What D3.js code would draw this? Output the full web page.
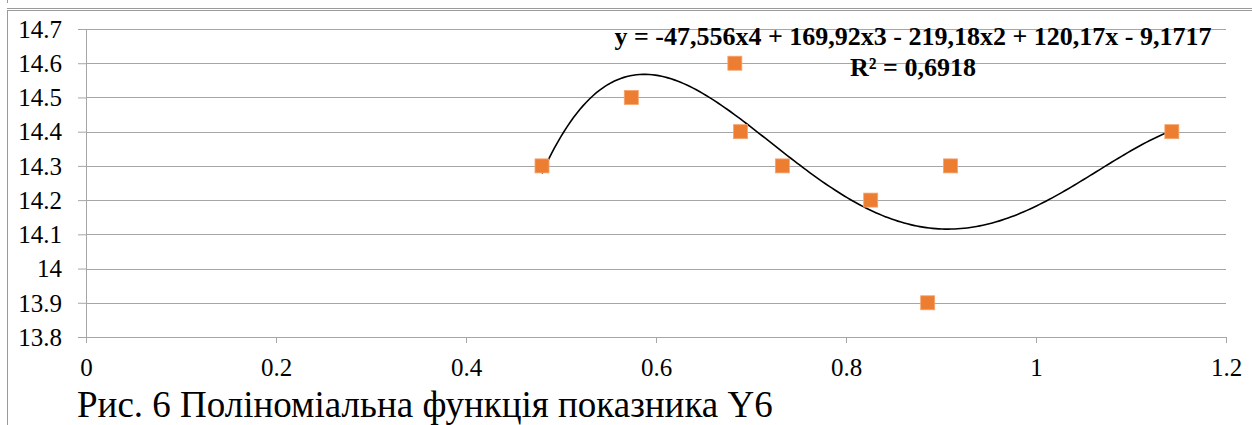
<!DOCTYPE html>
<html>
<head>
<meta charset="utf-8">
<script src="https://cdn.jsdelivr.net/npm/d3@7"></script>
<style>
  html, body { margin: 0; padding: 0; background: #fff; }
  svg { display: block; }
</style>
</head>
<body>
<svg id="chart" width="1252" height="425"></svg>
<script>
// ---- data ----
const xValues = [0.48, 0.574, 0.683, 0.689, 0.733, 0.826, 0.886, 0.910, 1.143];
const yValues = [14.3, 14.5, 14.6, 14.4, 14.3, 14.2, 13.9, 14.3, 14.4];
const xTicks = [0, 0.2, 0.4, 0.6, 0.8, 1, 1.2];
const yTicks = [13.8, 13.9, 14, 14.1, 14.2, 14.3, 14.4, 14.5, 14.6, 14.7];
// trendline coefficients (highest power first), as printed on the chart
const trendCoefs = [-47.556, 169.92, -219.18, 120.17, -9.1717];
const equationLines = ["y = -47,556x4 + 169,92x3 - 219,18x2 + 120,17x - 9,1717", "R² = 0,6918"];
const caption = "Рис. 6 Поліноміальна функція показника Y6";

// ---- layout ----
const svg = d3.select("#chart");
const plotLeft = 86, plotRight = 1226, plotTop = 29, plotBottom = 337;
const x = d3.scaleLinear().domain([0, 1.2]).range([plotLeft, plotRight]);
const y = d3.scaleLinear().domain([13.8, 14.7]).range([plotBottom, plotTop]);
const gridColor = "#a6a6a6";
const serif = 'Tinos, "Liberation Serif", "Noto Serif", FreeSerif, "Nimbus Roman", Times, serif';

// frame lines
const frame = svg.append("g").attr("stroke", "#9a9a9a").attr("stroke-width", 1).attr("fill", "none");
frame.append("line").attr("x1", 7.5).attr("x2", 7.5).attr("y1", 0).attr("y2", 3);
frame.append("line").attr("x1", 7).attr("x2", 1252).attr("y1", 8.5).attr("y2", 8.5);
frame.append("line").attr("x1", 7).attr("x2", 1252).attr("y1", 10.5).attr("y2", 10.5);
frame.append("line").attr("x1", 7.5).attr("x2", 7.5).attr("y1", 10).attr("y2", 425);

// gridlines
svg.append("g").selectAll("line").data(yTicks).join("line")
  .attr("x1", plotLeft).attr("x2", plotRight)
  .attr("y1", d => Math.round(y(d)) + 0.5).attr("y2", d => Math.round(y(d)) + 0.5)
  .attr("stroke", gridColor).attr("stroke-width", 1.2);

// y axis
const yAxis = d3.axisLeft(y).tickValues(yTicks).tickSize(8).tickSizeOuter(0).tickFormat(d => String(d));
const gy = svg.append("g").attr("transform", `translate(${plotLeft},0)`).call(yAxis);
gy.attr("font-family", null);
gy.select(".domain").attr("stroke", gridColor);
gy.selectAll(".tick line").attr("stroke", gridColor);
gy.selectAll(".tick text")
  .style("font-family", serif).style("font-size", "25px").attr("fill", "#000")
  .attr("x", -24).attr("dy", "0.33em");

// x axis
const xAxis = d3.axisBottom(x).tickValues(xTicks).tickSize(6).tickSizeOuter(0).tickFormat(d => String(d));
const gx = svg.append("g").attr("transform", `translate(0,${plotBottom})`).call(xAxis);
gx.attr("font-family", null);
gx.select(".domain").attr("stroke", gridColor);
gx.selectAll(".tick line").attr("stroke", gridColor);
gx.selectAll(".tick text")
  .style("font-family", serif).style("font-size", "25px").attr("fill", "#000")
  .attr("y", 21).attr("dy", "0.71em");

// trendline
const poly = v => trendCoefs.reduce((acc, c) => acc * v + c, 0);
const xMin = d3.min(xValues), xMax = d3.max(xValues);
const curvePts = d3.range(0, 201).map(i => {
  const v = xMin + (xMax - xMin) * i / 200;
  return [v, poly(v)];
});
svg.append("path")
  .datum(curvePts)
  .attr("fill", "none").attr("stroke", "#000").attr("stroke-width", 1.6)
  .attr("d", d3.line().x(d => x(d[0])).y(d => y(d[1])));

// markers
const ms = 14;
svg.append("g").selectAll("rect").data(xValues.map((v, i) => [v, yValues[i]])).join("rect")
  .attr("x", d => x(d[0]) - ms / 2).attr("y", d => y(d[1]) - ms / 2)
  .attr("width", ms).attr("height", ms)
  .attr("fill", "#ed7d31").attr("stroke", "#f4a46e").attr("stroke-width", 0.8);

// equation
const eq = svg.append("text")
  .style("font-family", serif).style("font-size", "26px").style("font-weight", "bold")
  .attr("text-anchor", "middle").attr("fill", "#000");
eq.append("tspan").attr("x", 913).attr("y", 45).text(equationLines[0]);
eq.append("tspan").attr("x", 913).attr("y", 76).text(equationLines[1]);

// caption
svg.append("text")
  .attr("x", 77).attr("y", 417)
  .style("font-family", serif).style("font-size", "37px").attr("fill", "#000")
  .text(caption);
</script>
</body>
</html>
